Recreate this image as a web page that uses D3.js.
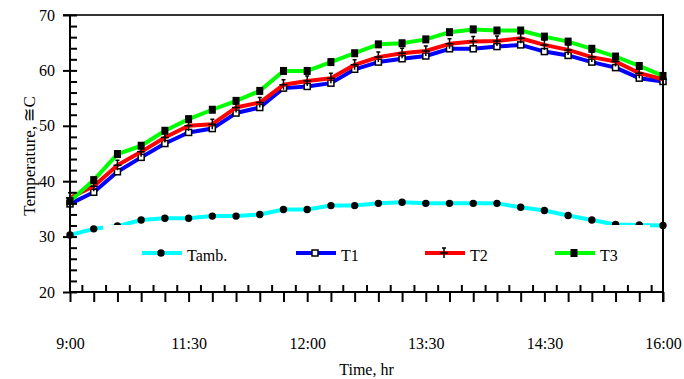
<!DOCTYPE html>
<html><head><meta charset="utf-8">
<script src="https://cdn.jsdelivr.net/npm/d3@7/dist/d3.min.js"></script>
<style>
body{margin:0;background:#fff}
svg{display:block}
text{font-family:"Liberation Serif","Times New Roman",serif;fill:#000}
</style>
</head><body>
<svg id="c" width="684" height="379"></svg>
<script>
// x category labels shown on every 5th reading
const xTickLabels = ["9:00", "11:30", "12:00", "13:30", "14:30", "16:00"];
const yTicks = [20, 30, 40, 50, 60, 70];
const seriesNames = ["Tamb.", "T1", "T2", "T3"];

const tamb = [30.3, 31.4, 31.9, 33.0, 33.3, 33.3, 33.7, 33.7, 34.0, 34.9, 34.9, 35.6, 35.6,
              36.0, 36.2, 36.0, 36.0, 36.0, 36.0, 35.3, 34.7, 33.8, 33.0, 32.2, 32.1, 32.0];
const t1 = [35.9, 38.0, 41.7, 44.3, 46.8, 48.8, 49.5, 52.3, 53.3, 56.8, 57.1, 57.7, 60.2,
            61.5, 62.1, 62.6, 63.9, 63.9, 64.3, 64.6, 63.4, 62.7, 61.5, 60.5, 58.6, 58.0];
const t2 = [37.0, 39.1, 42.9, 45.3, 47.9, 50.0, 50.3, 53.3, 54.2, 57.4, 58.1, 58.6, 61.0,
            62.4, 63.1, 63.5, 64.8, 65.2, 65.3, 65.8, 64.6, 63.7, 62.4, 61.6, 59.5, 58.4];
const t3 = [36.4, 40.2, 44.9, 46.4, 49.1, 51.2, 52.9, 54.5, 56.3, 59.9, 59.9, 61.5, 63.1,
            64.7, 64.9, 65.6, 66.9, 67.4, 67.2, 67.2, 66.1, 65.2, 63.9, 62.5, 60.8, 59.0];

const svg = d3.select("#c");
const L = 70, R = 663, T = 15, B = 292;
const n = tamb.length;
const x = d3.scaleLinear().domain([0, n - 1]).range([L, R]);
const y = d3.scaleLinear().domain([20, 70]).range([B, T]);

const series = [
  {name: seriesNames[0], values: tamb, color: "#00FFFF", marker: "circle"},
  {name: seriesNames[1], values: t1, color: "#0000FF", marker: "hollow"},
  {name: seriesNames[2], values: t2, color: "#FF0000", marker: "plus"},
  {name: seriesNames[3], values: t3, color: "#00FF00", marker: "square"}
];

function drawMarker(g, type, cx, cy) {
  if (type === "circle") {
    g.append("circle").attr("cx", cx).attr("cy", cy).attr("r", 3.7).attr("fill", "#000");
  } else if (type === "square") {
    g.append("rect").attr("x", cx - 3.5).attr("y", cy - 4).attr("width", 7).attr("height", 8).attr("fill", "#000");
  } else if (type === "hollow") {
    g.append("rect").attr("x", cx - 3).attr("y", cy - 3).attr("width", 6).attr("height", 6)
      .attr("fill", "#fff").attr("stroke", "#000").attr("stroke-width", 1.5);
  } else if (type === "plus") {
    g.append("path").attr("d", `M${cx - 4},${cy}H${cx + 4}M${cx},${cy - 5}V${cy + 5}M${cx - 2},${cy - 5}H${cx + 2}`)
      .attr("stroke", "#000").attr("stroke-width", 1.5).attr("fill", "none");
  }
}

// lines and markers
const line = d3.line().x((d, i) => x(i)).y(d => y(d));
const plot = svg.append("g");
series.forEach(s => {
  plot.append("path").datum(s.values).attr("d", line)
    .attr("fill", "none").attr("stroke", s.color).attr("stroke-width", 4)
    .attr("stroke-linejoin", "round");
  const mg = plot.append("g");
  s.values.forEach((v, i) => drawMarker(mg, s.marker, x(i), y(v)));
});

// legend (white background hides part of Tamb line)
const leg = svg.append("g");
leg.append("rect").attr("x", 103).attr("y", 225).attr("width", 547).attr("height", 56).attr("fill", "#fff");
const legX = [142, 296, 425, 555];
series.forEach((s, k) => {
  const lx = legX[k], ly = 253;
  leg.append("line").attr("x1", lx).attr("x2", lx + 40).attr("y1", ly).attr("y2", ly)
    .attr("stroke", s.color).attr("stroke-width", 4);
  drawMarker(leg, s.marker, lx + 19, ly);
  leg.append("text").attr("x", lx + 45).attr("y", ly + 8).attr("font-size", 16).text(s.name);
});

// frame: top and right borders
svg.append("line").attr("x1", L - 7).attr("x2", R).attr("y1", T).attr("y2", T)
  .attr("stroke", "#333").attr("stroke-width", 2);
svg.append("line").attr("x1", R).attr("x2", R).attr("y1", T - 1).attr("y2", B + 10)
  .attr("stroke", "#000").attr("stroke-width", 2);

// y axis
const yAx = svg.append("g").attr("transform", `translate(${L},0)`)
  .call(d3.axisLeft(y).tickValues(yTicks).tickSize(7).tickPadding(8).tickFormat(d3.format("d")));
yAx.selectAll("text").attr("font-size", 16).attr("font-family", "Liberation Serif").attr("fill", "#000");
const yMin = svg.append("g").attr("transform", `translate(${L},0)`)
  .call(d3.axisRight(y).tickValues(d3.range(20, 71, 2)).tickSize(7).tickFormat(""));

// x axis
const xAx = svg.append("g").attr("transform", `translate(0,${B})`)
  .call(d3.axisBottom(x).tickValues(d3.range(0, n)).tickSize(10).tickPadding(36)
    .tickFormat(i => i % 5 === 0 ? xTickLabels[i / 5] : ""));
xAx.selectAll("text").attr("font-size", 16).attr("font-family", "Liberation Serif").attr("fill", "#000");
const xMin = svg.append("g").attr("transform", `translate(0,${B})`)
  .call(d3.axisTop(x).tickValues(d3.range(0.5, n - 1, 1)).tickSize(7).tickFormat(""));

[yAx, yMin, xAx, xMin].forEach(g => {
  g.select(".domain").remove();
  g.selectAll(".tick line").attr("stroke", "#000").attr("stroke-width", 2);
});
svg.append("line").attr("x1", L).attr("x2", L).attr("y1", T).attr("y2", B + 1)
  .attr("stroke", "#000").attr("stroke-width", 2);
svg.append("line").attr("x1", L - 1).attr("x2", R + 1).attr("y1", B).attr("y2", B)
  .attr("stroke", "#000").attr("stroke-width", 2);

// titles
svg.append("text").attr("x", (L + R) / 2).attr("y", 375).attr("text-anchor", "middle")
  .attr("font-size", 16).text("Time, hr");
svg.append("text").attr("transform", "translate(35,156) rotate(-90)").attr("text-anchor", "middle")
  .attr("font-size", 17).text("Temperature, \u2245C");
</script>
</body></html>
